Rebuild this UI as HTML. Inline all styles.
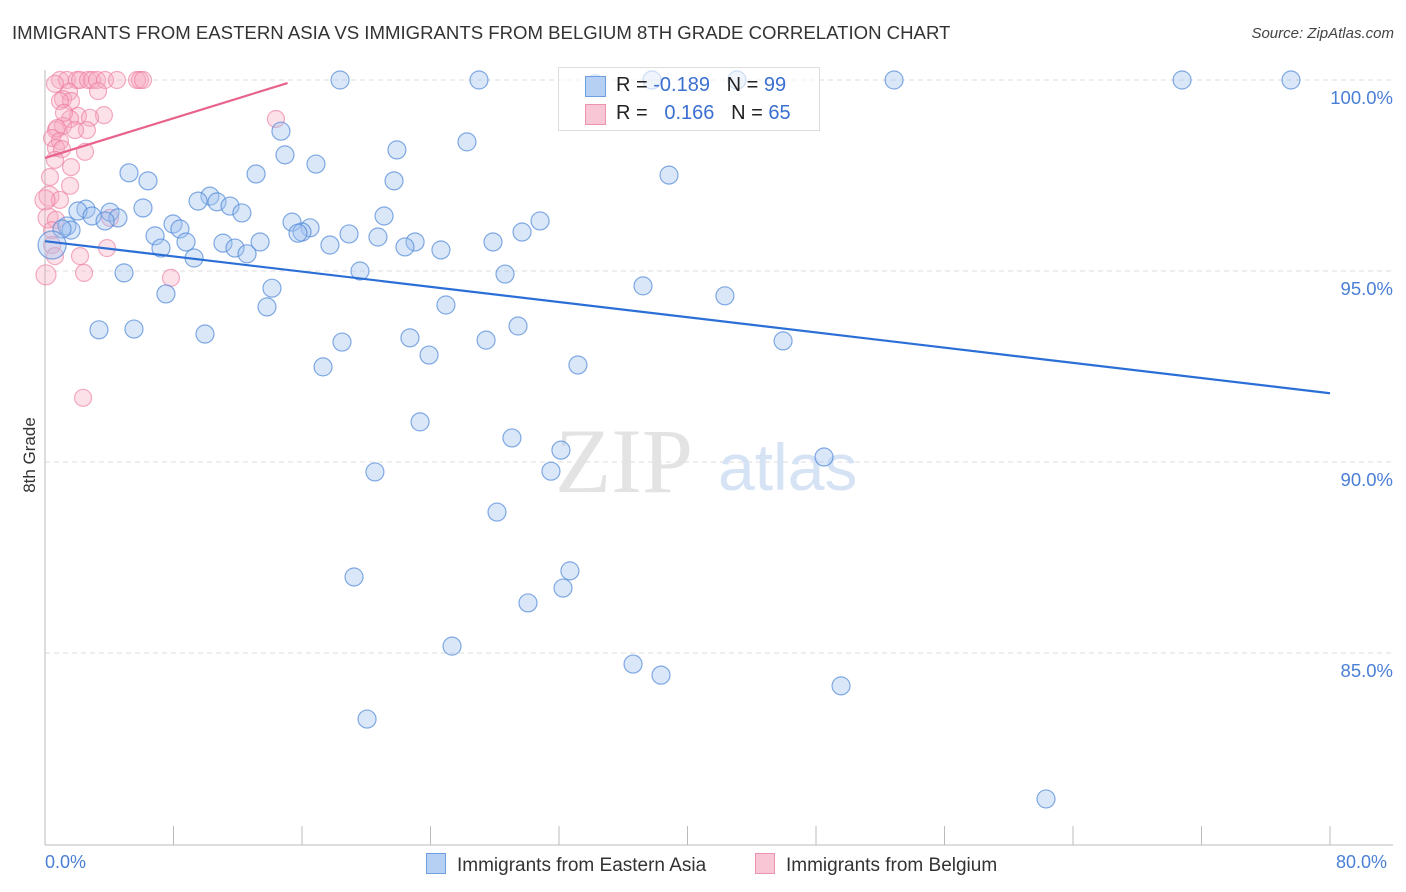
<!DOCTYPE html>
<html><head><meta charset="utf-8"><style>
body{margin:0;background:#fff;font-family:"Liberation Sans",sans-serif;}
#wrap{position:relative;width:1406px;height:892px;overflow:hidden}
.t{position:absolute;white-space:nowrap}
</style></head><body><div id="wrap">
<div class="t" style="left:12px;top:22px;font-size:18.6px;color:#333">IMMIGRANTS FROM EASTERN ASIA VS IMMIGRANTS FROM BELGIUM 8TH GRADE CORRELATION CHART</div>
<div class="t" style="right:12px;top:25px;font-size:15px;color:#444;font-style:italic">Source: ZipAtlas.com</div>
<div class="t" style="left:-8px;top:445px;font-size:17px;color:#333;transform:rotate(-90deg)">8th Grade</div>
<svg id="svg" width="1406" height="892" style="position:absolute;left:0;top:0"></svg>
<div class="t" style="left:558px;top:67px;width:260px;height:62px;border:1px solid #ddd;background:rgba(255,255,255,0.6)"></div>
<div class="t" style="left:585px;top:76px;width:19px;height:19px;background:#b6d0f3;border:1px solid #6e9fe0"></div>
<div class="t" style="left:585px;top:104px;width:19px;height:19px;background:#f8c6d4;border:1px solid #ec94ad"></div>
<div class="t" style="left:616px;top:74px;font-size:20px;color:#222">R = <span style="color:#3b6fd1">-0.189</span>&nbsp;&nbsp;&nbsp;N = <span style="color:#3b6fd1">99</span></div>
<div class="t" style="left:616px;top:102px;font-size:20px;color:#222">R = &nbsp;&nbsp;<span style="color:#3b6fd1">0.166</span>&nbsp;&nbsp;&nbsp;N = <span style="color:#3b6fd1">65</span></div>
<div class="t" style="left:45px;top:852px;font-size:18px;color:#4a7fd6">0.0%</div>
<div class="t" style="left:1336px;top:852px;font-size:18px;color:#4a7fd6">80.0%</div>
<div class="t" style="left:426px;top:853px;font-size:19px;color:#333"><span style="display:inline-block;width:18px;height:19px;background:#b6d0f3;border:1px solid #6e9fe0;vertical-align:-3px;margin-right:11px"></span>Immigrants from Eastern Asia</div>
<div class="t" style="left:755px;top:853px;font-size:19px;color:#333"><span style="display:inline-block;width:18px;height:19px;background:#f8c6d4;border:1px solid #ec94ad;vertical-align:-3px;margin-right:11px"></span>Immigrants from Belgium</div>
</div>
<script>
const yTicks=[100,95,90,85];
const yTickLabels=["100.0%","95.0%","90.0%","85.0%"];
const xTicks=[0,8,16,24,32,40,48,56,64,72,80];
const bluePx=[[595,84],[652,80],[737,80],[340,80],[479,80],[894,80],[1182,80],[1291,80],[281,131],[467,142],[397,150],[285,155],[316,164],[129,173],[148,181],[256,174],[394,181],[669,175],[210,196],[198,201],[217,202],[230,206],[143,208],[86,209],[78,211],[110,212],[242,213],[384,216],[540,221],[92,216],[118,218],[105,221],[173,224],[292,222],[67,226],[71,230],[62,229],[310,228],[302,232],[298,233],[522,232],[155,236],[180,229],[349,234],[378,237],[186,242],[223,243],[260,242],[493,242],[415,242],[405,247],[441,250],[161,248],[330,245],[235,248],[247,254],[194,258],[52,245],[360,271],[505,274],[124,273],[643,286],[272,288],[166,294],[725,296],[446,305],[267,307],[99,330],[134,329],[205,334],[518,326],[410,338],[486,340],[342,342],[783,341],[429,355],[323,367],[578,365],[420,422],[512,438],[561,450],[824,457],[551,471],[375,472],[497,512],[354,577],[570,571],[563,588],[528,603],[452,646],[633,664],[661,675],[841,686],[367,719],[1046,799]];
const pinkPx=[[60,80],[67,80],[77,80],[80,80],[88,80],[92,80],[97,80],[105,80],[117,80],[137,80],[140,80],[143,80],[69,92],[98,91],[63,99],[71,101],[60,101],[78,116],[104,115],[90,118],[70,119],[63,126],[56,130],[57,128],[87,130],[276,119],[52,138],[60,141],[56,148],[85,152],[62,149],[55,160],[71,167],[50,177],[70,186],[49,196],[60,200],[45,200],[48,218],[56,220],[110,218],[52,230],[52,245],[107,248],[80,256],[55,256],[46,275],[84,273],[171,278],[83,398],[75,130],[64,113],[55,84]];
// data values (percent)
const blueX=bluePx.map(p=>+((p[0]-45)/16.0625).toFixed(2));
const blueY=bluePx.map(p=>+(100-(p[1]-80)/38.2).toFixed(2));
const pinkX=pinkPx.map(p=>+((p[0]-45)/16.0625).toFixed(2));
const pinkY=pinkPx.map(p=>+(100-(p[1]-80)/38.2).toFixed(2));
const blueTrend=[[0,95.78],[80,91.8]];
const pinkTrend=[[0,97.96],[15.1,99.92]];
function sx(v){return 45+v*16.0625;}
function sy(v){return 80+(100-v)*38.2;}
const svg=document.getElementById('svg');const NS='http://www.w3.org/2000/svg';
function mk(tag,attrs){const e=document.createElementNS(NS,tag);for(const k in attrs)e.setAttribute(k,attrs[k]);svg.appendChild(e);return e;}
yTicks.forEach((t,i)=>{
 const g=mk('line',{x1:45,x2:1393,y1:sy(t),y2:sy(t),stroke:'#ddd','stroke-dasharray':'5,4'});
 
 
 const tx=mk('text',{x:1393,y:sy(t)+24,'text-anchor':'end','font-size':18.5,fill:'#4a7fd6','font-family':'Liberation Sans, sans-serif'});
 tx.textContent=yTickLabels[i];
 
 
});
const wm=mk('text',{x:555,y:492,'font-size':92,fill:'#e3e3e3','font-family':'Liberation Serif, serif'});wm.textContent='ZIP';


const wm2=mk('text',{x:718,y:490,'font-size':66,fill:'#d6e3f5','font-family':'Liberation Sans, sans-serif'});wm2.textContent='atlas';


const ya=mk('line',{x1:45,x2:45,y1:70,y2:845,stroke:'#bbb'});


const xa=mk('line',{x1:45,x2:1393,y1:845,y2:845,stroke:'#bbb'});


xTicks.forEach(t=>{const l=mk('line',{x1:sx(t),x2:sx(t),y1:826,y2:845,stroke:'#bbb'});
 
 });
pinkX.forEach((x,i)=>{const c=mk('circle',{cx:sx(x),cy:sy(pinkY[i]),r:(x<0.3?10:8.5),fill:'rgba(246,168,192,0.35)',stroke:'rgba(236,120,155,0.6)','stroke-width':1.2});
 
 });
blueX.forEach((x,i)=>{const c=mk('circle',{cx:sx(x),cy:sy(blueY[i]),r:(x<0.5?14:9),fill:'rgba(160,195,240,0.4)',stroke:'rgba(80,135,215,0.7)','stroke-width':1.2});
 
 });
const bl=mk('line',{x1:sx(blueTrend[0][0]),y1:sy(blueTrend[0][1]),x2:sx(blueTrend[1][0]),y2:sy(blueTrend[1][1]),stroke:'#2b6fd6','stroke-width':2.2});


const pl=mk('line',{x1:sx(pinkTrend[0][0]),y1:sy(pinkTrend[0][1]),x2:sx(pinkTrend[1][0]),y2:sy(pinkTrend[1][1]),stroke:'#e8638c','stroke-width':2.2});


</script></body></html>
